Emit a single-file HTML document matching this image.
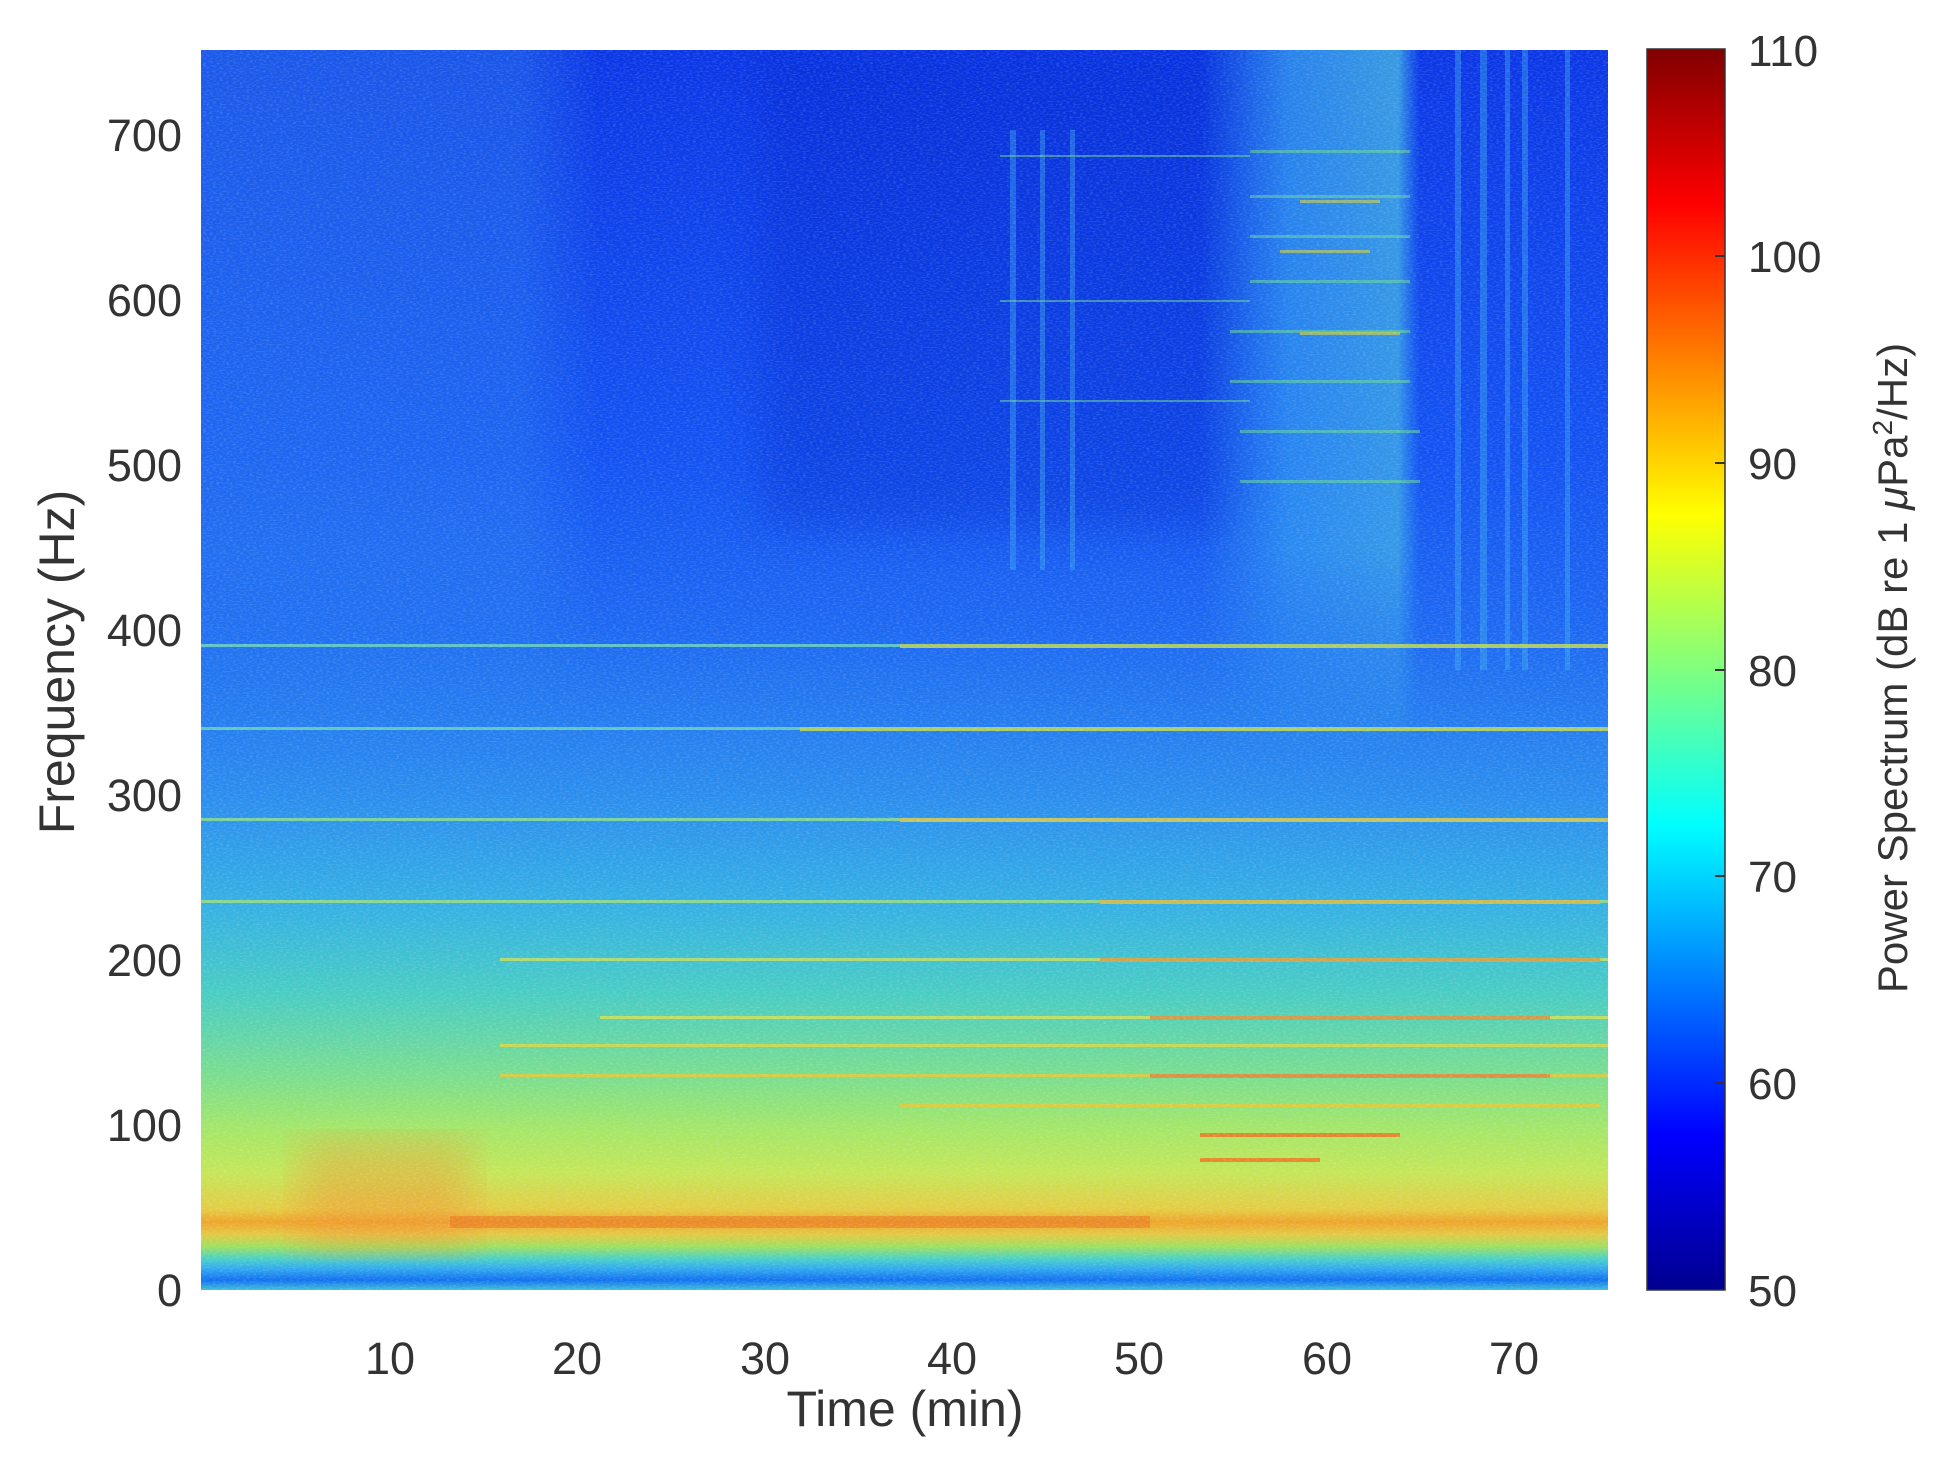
<!DOCTYPE html>
<html><head><meta charset="utf-8"><style>
html,body{margin:0;padding:0;background:#fff;}
svg{display:block;font-family:"Liberation Sans",Arial,sans-serif;}
</style></head><body>
<svg width="1934" height="1467" viewBox="0 0 1934 1467" xmlns="http://www.w3.org/2000/svg">
<defs>
<linearGradient id="bg" x1="0" y1="50" x2="0" y2="1290" gradientUnits="userSpaceOnUse">
<stop offset="0" stop-color="#0a36e6"/>
<stop offset="0.33" stop-color="#1252f2"/>
<stop offset="0.47" stop-color="#1c68f2"/>
<stop offset="0.6" stop-color="#2a8cee"/>
<stop offset="0.69" stop-color="#34b0e4"/>
<stop offset="0.76" stop-color="#48ccc4"/>
<stop offset="0.83" stop-color="#7cde8c"/>
<stop offset="0.87" stop-color="#a4e668"/>
<stop offset="0.905" stop-color="#c4e658"/>
<stop offset="0.935" stop-color="#e4cc44"/>
<stop offset="0.945" stop-color="#eea42a"/>
<stop offset="0.955" stop-color="#e4c844"/>
<stop offset="0.965" stop-color="#9ee060"/>
<stop offset="0.975" stop-color="#48d0c8"/>
<stop offset="0.983" stop-color="#30a8f0"/>
<stop offset="0.992" stop-color="#1070f0"/>
<stop offset="1" stop-color="#40c0d8"/>
</linearGradient>
<linearGradient id="jet" x1="0" y1="1290" x2="0" y2="49" gradientUnits="userSpaceOnUse">
<stop offset="0" stop-color="#00008f"/>
<stop offset="0.125" stop-color="#0000ff"/>
<stop offset="0.375" stop-color="#00ffff"/>
<stop offset="0.625" stop-color="#ffff00"/>
<stop offset="0.875" stop-color="#ff0000"/>
<stop offset="1" stop-color="#800000"/>
</linearGradient>
<linearGradient id="leftL" x1="201" y1="0" x2="600" y2="0" gradientUnits="userSpaceOnUse">
<stop offset="0" stop-color="#3a9af0" stop-opacity="0.35"/>
<stop offset="0.8" stop-color="#3a9af0" stop-opacity="0.3"/>
<stop offset="1" stop-color="#3a9af0" stop-opacity="0"/>
</linearGradient>
<linearGradient id="rightB" x1="1200" y1="0" x2="1420" y2="0" gradientUnits="userSpaceOnUse">
<stop offset="0" stop-color="#40c0f0" stop-opacity="0"/>
<stop offset="0.4" stop-color="#40c0f0" stop-opacity="0.55"/>
<stop offset="0.9" stop-color="#50d0e0" stop-opacity="0.65"/>
<stop offset="1" stop-color="#40c0f0" stop-opacity="0"/>
</linearGradient>
<linearGradient id="fadeV" x1="0" y1="50" x2="0" y2="760" gradientUnits="userSpaceOnUse">
<stop offset="0" stop-color="#fff" stop-opacity="1"/>
<stop offset="0.7" stop-color="#fff" stop-opacity="0.8"/>
<stop offset="1" stop-color="#fff" stop-opacity="0"/>
</linearGradient>
<mask id="mtop"><rect x="0" y="0" width="1934" height="1467" fill="url(#fadeV)"/></mask>
<filter id="noise" x="0" y="0" width="100%" height="100%">
<feTurbulence type="fractalNoise" baseFrequency="0.3 0.7" numOctaves="2" seed="3"/>
<feColorMatrix type="matrix" values="0 0 0 0 1  0 0 0 0 1  0 0 0 0 1  0 0 0 1.4 -0.6"/>
</filter>
<filter id="blur"><feGaussianBlur stdDeviation="20"/></filter>
<clipPath id="plot"><rect x="201" y="50" width="1407" height="1240"/></clipPath>
</defs>

<g clip-path="url(#plot)">
<rect x="201" y="50" width="1407" height="1240" fill="url(#bg)"/>
<rect x="201" y="50" width="400" height="760" fill="url(#leftL)" mask="url(#mtop)"/>
<rect x="760" y="50" width="480" height="480" fill="#0620c8" opacity="0.3" filter="url(#blur)"/>
<rect x="1200" y="50" width="220" height="700" fill="url(#rightB)" mask="url(#mtop)"/>
<g fill="#40b0f0" opacity="0.4">
<rect x="1455" y="50" width="6" height="620"/>
<rect x="1480" y="50" width="7" height="620"/>
<rect x="1505" y="50" width="5" height="620"/>
<rect x="1522" y="50" width="6" height="620"/>
<rect x="1565" y="50" width="5" height="620"/>
<rect x="1010" y="130" width="6" height="440"/>
<rect x="1040" y="130" width="5" height="440"/>
<rect x="1070" y="130" width="5" height="440"/>
</g>
<g fill="#70e090" opacity="0.5">
<rect x="1250" y="150" width="160" height="3"/>
<rect x="1250" y="195" width="160" height="3"/>
<rect x="1250" y="235" width="160" height="3"/>
<rect x="1250" y="280" width="160" height="3"/>
<rect x="1230" y="330" width="180" height="3"/>
<rect x="1230" y="380" width="180" height="3"/>
<rect x="1240" y="430" width="180" height="3"/>
<rect x="1240" y="480" width="180" height="3"/>
<rect x="1000" y="155" width="250" height="2"/>
<rect x="1000" y="300" width="250" height="2"/>
<rect x="1000" y="400" width="250" height="2"/>
</g>
<g fill="#d8d040" opacity="0.6">
<rect x="1300" y="332" width="100" height="3"/>
<rect x="1300" y="200" width="80" height="3"/>
<rect x="1280" y="250" width="90" height="3"/>
</g>
<g opacity="0.8">
<rect x="201" y="644" width="1407" height="3" fill="#70d8c0"/>
<rect x="900" y="644" width="708" height="4" fill="#c8e050"/>
<rect x="201" y="727" width="1407" height="3" fill="#70d8b0"/>
<rect x="800" y="727" width="808" height="4" fill="#c8e050"/>
<rect x="201" y="818" width="1407" height="3" fill="#90e090"/>
<rect x="900" y="818" width="708" height="4" fill="#e8d040"/>
<rect x="201" y="900" width="1407" height="3" fill="#a0e080"/>
<rect x="1100" y="900" width="500" height="4" fill="#f0c030"/>
<rect x="500" y="958" width="1108" height="3" fill="#c8e060"/>
<rect x="1100" y="958" width="500" height="4" fill="#f0a030"/>
<rect x="600" y="1016" width="1008" height="3" fill="#d8e050"/>
<rect x="1150" y="1016" width="400" height="4" fill="#f09030"/>
<rect x="500" y="1044" width="1108" height="3" fill="#e0d840"/>
<rect x="500" y="1074" width="1108" height="3" fill="#e8c838"/>
<rect x="1150" y="1074" width="400" height="4" fill="#f08030"/>
<rect x="900" y="1104" width="700" height="3" fill="#e8c838"/>
<rect x="1200" y="1133" width="200" height="4" fill="#f07020"/>
<rect x="1200" y="1158" width="120" height="4" fill="#f07020"/>
</g>
<rect x="300" y="1140" width="170" height="110" fill="#f09030" opacity="0.4" filter="url(#blur)"/>
<rect x="450" y="1216" width="700" height="12" fill="#e86820" opacity="0.45"/>
<rect x="201" y="50" width="1407" height="1240" filter="url(#noise)" opacity="0.28"/>
</g>

<rect x="1647" y="49" width="78" height="1241" fill="url(#jet)" stroke="#333" stroke-width="1.5"/>
<g stroke="#333" stroke-width="2">
<line x1="1715" y1="1083" x2="1725" y2="1083"/>
<line x1="1715" y1="876" x2="1725" y2="876"/>
<line x1="1715" y1="670" x2="1725" y2="670"/>
<line x1="1715" y1="463" x2="1725" y2="463"/>
<line x1="1715" y1="256" x2="1725" y2="256"/>
</g>
<g fill="#333" font-size="44">
<text x="1748" y="1306">50</text>
<text x="1748" y="1099">60</text>
<text x="1748" y="892">70</text>
<text x="1748" y="686">80</text>
<text x="1748" y="479">90</text>
<text x="1748" y="272">100</text>
<text x="1748" y="66">110</text>
</g>
<text transform="translate(1907,668) rotate(-90)" text-anchor="middle" font-size="42" fill="#333">Power Spectrum (dB re 1 <tspan font-style="italic">μ</tspan>Pa<tspan dy="-15" font-size="28">2</tspan><tspan dy="15">/Hz)</tspan></text>

<g fill="#333" font-size="45" text-anchor="end">
<text x="182" y="1306">0</text>
<text x="182" y="1141">100</text>
<text x="182" y="976">200</text>
<text x="182" y="811">300</text>
<text x="182" y="646">400</text>
<text x="182" y="481">500</text>
<text x="182" y="316">600</text>
<text x="182" y="151">700</text>
</g>
<g fill="#333" font-size="45" text-anchor="middle">
<text x="390" y="1374">10</text>
<text x="577" y="1374">20</text>
<text x="765" y="1374">30</text>
<text x="952" y="1374">40</text>
<text x="1139" y="1374">50</text>
<text x="1327" y="1374">60</text>
<text x="1514" y="1374">70</text>
</g>
<text x="905" y="1426" text-anchor="middle" font-size="50" fill="#333">Time (min)</text>
<text transform="translate(74,662) rotate(-90)" text-anchor="middle" font-size="50" fill="#333">Frequency (Hz)</text>
</svg>
</body></html>
